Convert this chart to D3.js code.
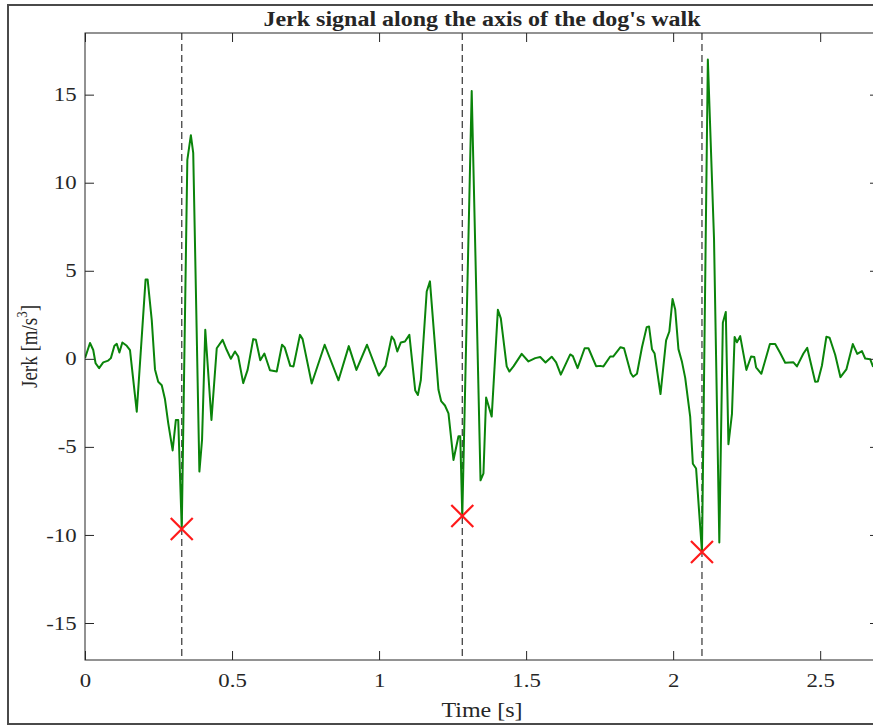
<!DOCTYPE html>
<html>
<head>
<meta charset="utf-8">
<script src="https://cdn.jsdelivr.net/npm/d3@7"></script>
<style>
body{margin:0;background:#fff;overflow:hidden;}
text{font-family:"Liberation Serif","Times New Roman",serif;fill:#262626;}
</style>
</head>
<body>
<div id="chart"></div>
<script>
// jerk signal (time in s, jerk in m/s^3)
const time=[0.000,0.017,0.028,0.036,0.048,0.062,0.079,0.088,0.100,0.108,0.117,0.127,0.142,0.153,0.176,0.206,0.213,0.227,0.238,0.249,
    0.261,0.272,0.283,0.298,0.309,0.317,0.329,0.348,0.360,0.368,0.389,0.398,0.409,0.430,0.448,0.468,0.482,0.496,0.510,0.521,
    0.538,0.553,0.572,0.581,0.596,0.610,0.629,0.652,0.670,0.679,0.698,0.709,0.731,0.740,0.771,0.815,0.862,0.897,0.923,0.959,
    0.999,1.022,1.043,1.051,1.062,1.074,1.088,1.103,1.123,1.132,1.142,1.162,1.173,1.202,1.211,1.224,1.236,1.253,1.270,1.276,
    1.283,1.315,1.345,1.355,1.364,1.383,1.404,1.414,1.434,1.443,1.457,1.485,1.508,1.531,1.548,1.566,1.587,1.602,1.618,1.650,
    1.659,1.675,1.699,1.712,1.738,1.752,1.763,1.786,1.796,1.821,1.833,1.856,1.864,1.877,1.894,1.910,1.918,1.928,1.937,1.957,
    1.976,1.987,1.998,2.007,2.018,2.030,2.041,2.058,2.067,2.078,2.098,2.118,2.139,2.157,2.169,2.179,2.188,2.200,2.209,2.217,
    2.228,2.249,2.265,2.276,2.282,2.300,2.329,2.347,2.364,2.381,2.409,2.421,2.443,2.456,2.483,2.492,2.506,2.521,2.532,2.551,
    2.569,2.589,2.611,2.626,2.642,2.653,2.670,2.680];
const jerk=[0.04,0.9,0.5,-0.25,-0.53,-0.2,-0.1,0.04,0.74,0.85,0.36,0.93,0.74,0.5,-3.0,4.5,4.5,2.2,-0.6,-1.3,
    -1.5,-2.3,-3.65,-5.2,-3.47,-3.47,-9.66,11.3,12.7,11.7,-6.4,-4.6,1.65,-3.47,0.6,1.08,0.5,0.0,0.42,0.13,
    -1.38,-0.63,1.12,1.08,-0.08,0.3,-0.65,-0.72,0.8,0.65,-0.4,-0.43,1.36,1.12,-1.4,0.8,-1.22,0.72,-0.63,0.8,
    -0.95,-0.4,1.27,1.08,0.42,0.93,0.98,1.36,-1.8,-2.05,-1.2,3.82,4.4,-1.76,-2.4,-2.65,-3.1,-5.74,-4.4,-4.4,
    -8.92,15.2,-6.9,-6.5,-2.2,-3.28,2.78,2.3,-0.43,-0.72,-0.43,0.28,-0.15,0.04,0.1,-0.21,0.12,-0.2,-0.9,0.25,
    0.15,-0.53,0.6,0.6,-0.42,-0.4,-0.43,0.13,0.13,0.66,0.6,-0.82,-1.02,-0.85,0.66,1.8,1.84,0.55,0.3,-2.0,
    1.05,1.55,3.4,2.8,0.55,-0.17,-1.08,-3.3,-5.96,-6.23,-10.97,17.0,6.8,-10.43,2.05,2.66,-4.85,-3.12,1.24,0.94,
    1.29,-0.63,0.13,0.1,-0.48,-0.85,0.84,0.84,0.33,-0.22,-0.2,-0.43,0.3,0.62,-1.3,-1.29,-0.38,1.25,1.2,0.23,
    -1.04,-0.6,0.84,0.28,0.44,0.02,-0.02,-0.46];

// detected steps (minimum of the jerk)
const stepTime=[0.329,1.283,2.098];
const stepJerk=[-9.66,-8.92,-10.97];

const xTicks=[0,0.5,1,1.5,2,2.5];
const yTicks=[-15,-10,-5,0,5,10,15];

const width=873;
const height=726;
const margin={left:85,top:33,right:879,bottom:660};
const sx=1.2; // the reference text is a bit wider than plain Times

const x=d3.scaleLinear().domain([0,2.7]).range([margin.left,margin.right]);
const y=d3.scaleLinear().domain([-17.1,18.5]).range([margin.bottom,margin.top]);

const svg=d3.select("#chart").append("svg")
    .attr("width",width)
    .attr("height",height);

// outer frame
svg.append("rect")
    .attr("x",8).attr("y",5)
    .attr("width",width+20).attr("height",719)
    .attr("fill","none")
    .attr("stroke","#4a4a4a")
    .attr("stroke-width",2);

svg.append("defs").append("clipPath").attr("id","plot")
    .append("rect")
    .attr("x",margin.left).attr("y",margin.top)
    .attr("width",margin.right-margin.left).attr("height",margin.bottom-margin.top);

const plot=svg.append("g").attr("clip-path","url(#plot)");

// dashed step lines
plot.selectAll(".step-line")
    .data(stepTime)
    .join("line")
    .attr("class","step-line")
    .attr("x1",d=>x(d)).attr("x2",d=>x(d))
    .attr("y1",margin.top).attr("y2",margin.bottom)
    .attr("stroke","#444")
    .attr("stroke-width",1.3)
    .attr("stroke-dasharray","7,4");

const line=d3.line()
    .x((d,i)=>x(time[i]))
    .y(d=>y(d));

plot.append("path")
    .datum(jerk)
    .attr("fill","none")
    .attr("stroke","#0a840a")
    .attr("stroke-width",2)
    .attr("stroke-linejoin","round")
    .attr("d",line);

// red crosses at the steps
plot.selectAll(".cross")
    .data(stepTime)
    .join("path")
    .attr("class","cross")
    .attr("d",(d,i)=>{
        const cx=x(d),cy=y(stepJerk[i]),s=11;
        return `M${cx-s},${cy-s}L${cx+s},${cy+s}M${cx-s},${cy+s}L${cx+s},${cy-s}`;
    })
    .attr("stroke","#ff1a1a")
    .attr("stroke-width",2.2)
    .attr("fill","none");

// axes box (matlab style, ticks inside, box on)
const axisColor="#262626";
svg.append("rect")
    .attr("x",margin.left).attr("y",margin.top)
    .attr("width",margin.right-margin.left).attr("height",margin.bottom-margin.top)
    .attr("fill","none")
    .attr("stroke",axisColor)
    .attr("stroke-width",1);

const xAxisB=d3.axisBottom(x).tickValues(xTicks).tickSizeInner(-9).tickSizeOuter(0).tickPadding(14).tickFormat(d=>String(d));
const gx=svg.append("g").attr("transform",`translate(0,${margin.bottom})`).call(xAxisB);
gx.select(".domain").remove();
gx.selectAll("line").attr("stroke",axisColor);
gx.selectAll("text").style("font-size","19px").attr("fill",axisColor)
    .attr("transform",`scale(${sx},1)`);

const xAxisT=d3.axisTop(x).tickValues(xTicks).tickSizeInner(-9).tickSizeOuter(0).tickFormat("");
const gxt=svg.append("g").attr("transform",`translate(0,${margin.top})`).call(xAxisT);
gxt.select(".domain").remove();
gxt.selectAll("line").attr("stroke",axisColor);

const yAxisL=d3.axisLeft(y).tickValues(yTicks).tickSizeInner(-9).tickSizeOuter(0).tickPadding(7).tickFormat(d=>String(d));
const gy=svg.append("g").attr("transform",`translate(${margin.left},0)`).call(yAxisL);
gy.select(".domain").remove();
gy.selectAll("line").attr("stroke",axisColor);
gy.selectAll("text").style("font-size","19px").attr("fill",axisColor)
    .attr("transform",`scale(${sx},1)`);

const yAxisR=d3.axisRight(y).tickValues(yTicks).tickSizeInner(-9).tickSizeOuter(0).tickFormat("");
const gyr=svg.append("g").attr("transform",`translate(${margin.right},0)`).call(yAxisR);
gyr.select(".domain").remove();
gyr.selectAll("line").attr("stroke",axisColor);

// title and labels
svg.append("text")
    .attr("transform",`translate(${(margin.left+margin.right)/2},26) scale(${sx},1)`)
    .attr("text-anchor","middle")
    .style("font-size","20px")
    .style("font-weight","bold")
    .attr("fill","#000")
    .text("Jerk signal along the axis of the dog's walk");

svg.append("text")
    .attr("transform",`translate(${(margin.left+margin.right)/2},717) scale(${sx},1)`)
    .attr("text-anchor","middle")
    .style("font-size","20px")
    .text("Time [s]");

const ylab=svg.append("text")
    .attr("transform",`translate(37,${(margin.top+margin.bottom)/2}) scale(${sx},1) rotate(-90)`)
    .attr("text-anchor","middle")
    .style("font-size","19px");
ylab.append("tspan").text("Jerk [m/s");
ylab.append("tspan").attr("dy",-8).style("font-size","13px").text("3");
ylab.append("tspan").attr("dy",8).text("]");
</script>
</body>
</html>
